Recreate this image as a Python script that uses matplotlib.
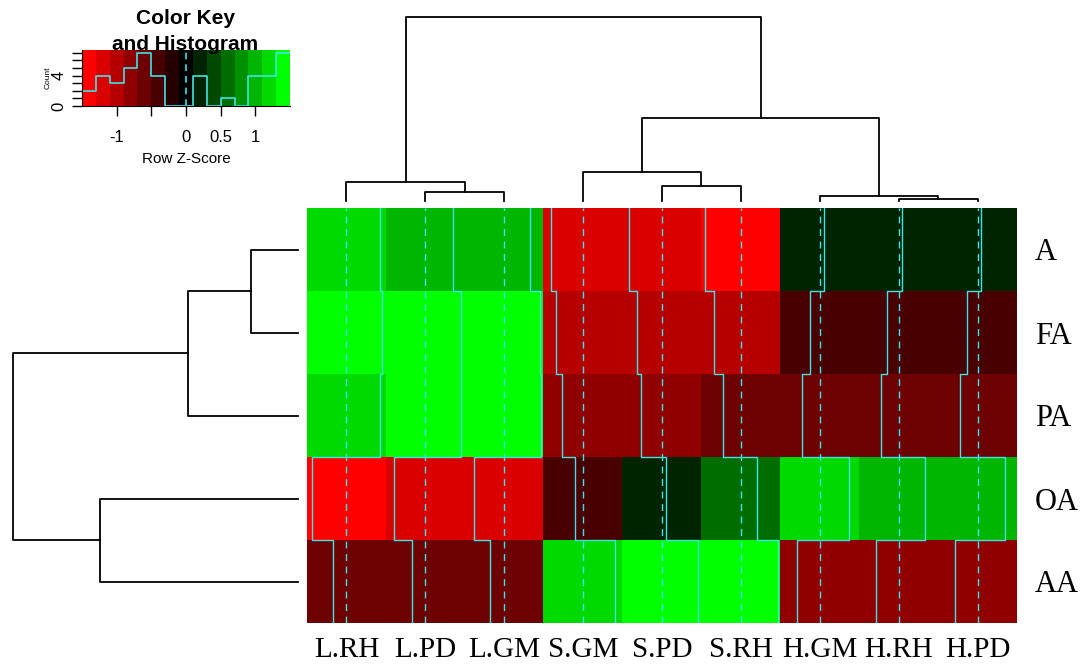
import numpy as np
import matplotlib
matplotlib.use('Agg')
import matplotlib.pyplot as plt
from matplotlib.colors import LinearSegmentedColormap, BoundaryNorm

col_labels = ['L.RH', 'L.PD', 'L.GM', 'S.GM', 'S.PD', 'S.RH', 'H.GM', 'H.RH', 'H.PD']
row_labels = ['A', 'FA', 'PA', 'OA', 'AA']

# row z-scores (rows from top to bottom)
z_A = [1.28, 1.05, 0.97, -1.22, -1.26, -1.36, 0.17, 0.14, 0.15]
z_FA = [1.37, 1.35, 1.37, -1.02, -0.96, -1.04, -0.37, -0.45, -0.40]
z_PA = [1.28, 1.35, 1.40, -0.80, -0.78, -0.68, -0.66, -0.67, -0.66]
z_OA = [-1.32, -1.18, -1.16, -0.32, 0.16, 0.62, 1.12, 0.99, 1.04]
z_AA = [-0.52, -0.51, -0.55, 1.22, 1.36, 1.40, -0.85, -0.86, -0.84]

breaks = np.linspace(-1.5, 1.5, 16)

# dendrogram merges: (left id, right id, height), new clusters numbered after leaves
col_merges = [(1, 2, 9.3), (7, 8, 2.0), (6, 10, 5.3), (4, 5, 15.3),
              (0, 9, 19.3), (3, 12, 29.3), (14, 11, 83.0), (13, 15, 183.7)]
row_merges = [(0, 1, 47.0), (5, 2, 110.0), (3, 4, 198.0), (6, 7, 285.0)]

TRACE = '#3fe3e6'
W, H = 1083, 665


def box(x0, y0, x1, y1):
    """pixel box -> figure fractions"""
    return [x0 / W, 1 - y1 / H, (x1 - x0) / W, (y1 - y0) / H]


def draw_dendro(ax, merges, n, top=True):
    pos = {i: float(i) for i in range(n)}
    hgt = {i: 0.0 for i in range(n)}
    for k, (a, b, h) in enumerate(merges):
        xs = [pos[a], pos[a], pos[b], pos[b]]
        ys = [hgt[a], h, h, hgt[b]]
        if top:
            ax.plot(xs, ys, color='black', lw=1.3, clip_on=False)
        else:
            ax.plot(ys, xs, color='black', lw=1.3, clip_on=False)
        pos[n + k] = (pos[a] + pos[b]) / 2
        hgt[n + k] = h
    ax.axis('off')


z = np.array([z_A, z_FA, z_PA, z_OA, z_AA])
nr, nc = z.shape

cmap = LinearSegmentedColormap.from_list('rg', ['#ff0000', '#000000', '#00ff00'], N=15)
norm = BoundaryNorm(breaks, cmap.N)

plt.rcParams['font.family'] = ['Liberation Sans', 'DejaVu Sans']
fig = plt.figure(figsize=(W / 100, H / 100), dpi=100)

# heatmap
ax = fig.add_axes(box(307, 208, 1017, 623))
ax.imshow(z, cmap=cmap, norm=norm, aspect='auto', interpolation='nearest')
for j in range(nc):
    ax.axvline(j, color=TRACE, lw=1, ls=(0, (5, 4)))
    xs = np.repeat(j - 0.5 + (z[:, j] - breaks[0]) / (breaks[-1] - breaks[0]), 2)
    ys = np.ravel([[i - 0.5, i + 0.5] for i in range(nr)])
    ax.plot(xs, ys, color=TRACE, lw=1)
ax.set_xlim(-0.5, nc - 0.5)
ax.set_ylim(nr - 0.5, -0.5)
ax.set_xticks(range(nc))
ax.set_xticklabels(col_labels, family='Liberation Serif', fontsize=21)
ax.yaxis.tick_right()
ax.set_yticks(range(nr))
ax.set_yticklabels(row_labels, family='Liberation Serif', fontsize=22)
ax.tick_params(length=0)
ax.tick_params(axis='x', pad=10)
ax.tick_params(axis='y', pad=13)
for s in ax.spines.values():
    s.set_visible(False)

# column dendrogram
axt = fig.add_axes(box(307, 17, 1017, 201))
draw_dendro(axt, col_merges, nc, top=True)
axt.set_xlim(-0.5, nc - 0.5)
axt.set_ylim(0, col_merges[-1][2])

# row dendrogram
axl = fig.add_axes(box(13, 208, 298, 623))
draw_dendro(axl, row_merges, nr, top=False)
axl.set_ylim(nr - 0.5, -0.5)
axl.set_xlim(row_merges[-1][2], 0)

# color key with histogram
axk = fig.add_axes(box(82, 50, 290, 106))
centers = (breaks[:-1] + breaks[1:]) / 2
axk.imshow(centers[np.newaxis, :], cmap=cmap, norm=norm, aspect='auto',
           extent=[breaks[0], breaks[-1], 0, 1], interpolation='nearest')
counts, _ = np.histogram(z.ravel(), bins=breaks)
hy = np.append(counts, counts[-1]) / counts.max() * 0.95
axk.step(breaks, hy, where='post', color=TRACE, lw=1.2)
axk.axvline(0, color=TRACE, lw=1.2, ls=(0, (4, 3)))
axk.set_xlim(breaks[0], breaks[-1])
axk.set_ylim(0, 1)
axk.set_xticks([-1, -0.5, 0, 0.5, 1])
axk.set_xticklabels(['-1', '', '0', '0.5', '1'], fontsize=12)
cticks = np.arange(counts.max() + 1)
axk.set_yticks(cticks / counts.max() * 0.95)
axk.set_yticklabels([str(c) if c in (0, 4) else '' for c in cticks],
                    fontsize=12, rotation=90, va='center')
axk.tick_params(length=7, width=1)
axk.tick_params(axis='x', pad=10)
axk.tick_params(axis='y', pad=4)
axk.set_xlabel('Row Z-Score', fontsize=11, labelpad=5)
axk.set_ylabel('Count', fontsize=6, labelpad=0)
for s in ['top', 'right']:
    axk.spines[s].set_visible(False)
fig.text(185 / W, 1 - 18 / H, 'Color Key', ha='center', va='center',
         fontsize=15, fontweight='bold')
fig.text(185 / W, 1 - 44 / H, 'and Histogram', ha='center', va='center',
         fontsize=15, fontweight='bold')

fig.savefig('out.png', dpi=100)
